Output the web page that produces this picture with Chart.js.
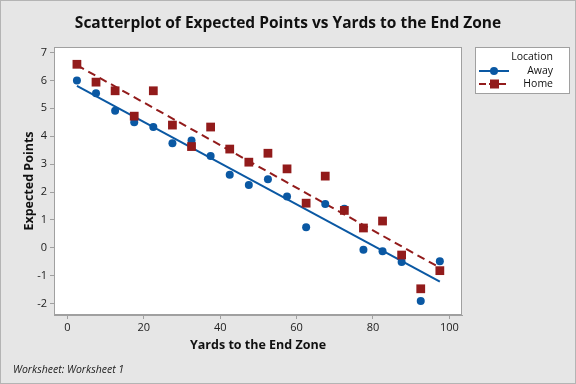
<!DOCTYPE html>
<html><head><meta charset="utf-8">
<script src="https://cdn.jsdelivr.net/npm/chart.js@4"></script>
<style>html,body{margin:0;padding:0;background:#e6e6e6}canvas{display:block}</style>
</head><body>
<canvas id="c" width="576" height="384"></canvas>
<script>
const yards = [2.5,7.5,12.5,17.5,22.5,27.5,32.5,37.5,42.5,47.5,52.5,57.5,62.5,67.5,72.5,77.5,82.5,87.5,92.5,97.5];
const awayPoints = [6.0,5.54,4.91,4.5,4.33,3.75,3.85,3.29,2.62,2.25,2.46,1.84,0.74,1.57,1.40,-0.07,-0.12,-0.51,-1.91,-0.48];
const homePoints = [6.58,5.94,5.63,4.72,5.63,4.40,3.63,4.33,3.54,3.07,3.39,2.83,1.60,2.57,1.34,0.71,0.96,-0.26,-1.47,-0.82];
const xTicks = [0,20,40,60,80,100];
const yTicks = [-2,-1,0,1,2,3,4,5,6,7];
const seriesNames = ['Away','Home'];
const legendTitle = 'Location';
const chartTitle = 'Scatterplot of Expected Points vs Yards to the End Zone';
const xTitle = 'Yards to the End Zone';
const yTitle = 'Expected Points';
const footer = 'Worksheet: Worksheet 1';

const BLUE = '#0a58a3', RED = '#921b1b';
const FONT = '"Open Sans", "Noto Sans", sans-serif';

function fit(xs, ys) {
  const n = xs.length;
  const mx = xs.reduce((a,b)=>a+b,0)/n, my = ys.reduce((a,b)=>a+b,0)/n;
  let sxy=0, sxx=0;
  for (let i=0;i<n;i++){ sxy+=(xs[i]-mx)*(ys[i]-my); sxx+=(xs[i]-mx)**2; }
  const b = sxy/sxx, a = my-b*mx;
  const x0 = Math.min(...xs), x1 = Math.max(...xs);
  return [{x:x0,y:a+b*x0},{x:x1,y:a+b*x1}];
}
const pts = (xs, ys) => xs.map((x,i)=>({x, y:ys[i]}));

const decor = {
  id:'decor',
  beforeDraw(chart){
    const {ctx, chartArea:ca} = chart;
    ctx.save();
    ctx.fillStyle='#e6e6e6'; ctx.fillRect(0,0,576,384);
    ctx.strokeStyle='#b4b4b4'; ctx.lineWidth=1; ctx.strokeRect(0.5,0.5,575,383);
    ctx.fillStyle='#ffffff'; ctx.fillRect(ca.left, ca.top, ca.right-ca.left, ca.bottom-ca.top);
    // title
    ctx.fillStyle='#111'; ctx.font='bold 15.5px '+FONT; ctx.textAlign='center'; ctx.textBaseline='middle';
    ctx.fillText(chartTitle, 288, 24);
    // footer
    ctx.font='italic 10.5px '+FONT; ctx.textAlign='left';
    ctx.fillStyle='#222';
    ctx.fillText(footer, 13, 370);
    ctx.restore();
  },
  afterDatasetsDraw(chart){
    const {ctx, chartArea:ca} = chart;
    ctx.save();
    ctx.strokeStyle='#a0a0a0'; ctx.lineWidth=1;
    ctx.strokeRect(Math.round(ca.left)+0.5, Math.round(ca.top)+0.5, Math.round(ca.right-ca.left)-1, Math.round(ca.bottom-ca.top)-1);
    // legend
    const lx=475, ly=47, lw=95, lh=47;
    ctx.fillStyle='#fff'; ctx.fillRect(lx,ly,lw,lh);
    ctx.strokeStyle='#a0a0a0'; ctx.strokeRect(lx+0.5,ly+0.5,lw-1,lh-1);
    ctx.fillStyle='#111'; ctx.font='10.5px '+FONT; ctx.textAlign='right'; ctx.textBaseline='middle';
    ctx.fillText(legendTitle, 553, 57);
    const rows = [[seriesNames[0], BLUE, 'circle', 71],[seriesNames[1], RED, 'rect', 84]];
    rows.forEach(([name,col,shape,y])=>{
      ctx.fillStyle='#111'; ctx.fillText(name, 553, y);
      ctx.strokeStyle=col; ctx.lineWidth=2;
      ctx.setLineDash(shape==='rect'?[7,3]:[]);
      ctx.beginPath(); ctx.moveTo(479,y); ctx.lineTo(509,y); ctx.stroke();
      ctx.setLineDash([]);
      ctx.fillStyle=col;
      if (shape==='circle'){ ctx.beginPath(); ctx.arc(494,y,4,0,Math.PI*2); ctx.fill(); }
      else ctx.fillRect(490,y-4.5,9,9);
    });
    ctx.restore();
  }
};

new Chart(document.getElementById('c'), {
  type:'scatter',
  data:{datasets:[
    {label:seriesNames[1], data:pts(yards,homePoints), backgroundColor:RED, borderColor:RED, pointStyle:'rect', pointRadius:6.2, pointHoverRadius:6.2, borderWidth:0},
    {label:seriesNames[0], data:pts(yards,awayPoints), backgroundColor:BLUE, borderColor:BLUE, pointStyle:'circle', pointRadius:4, pointHoverRadius:4, borderWidth:0},
    {label:'Home fit', type:'line', data:fit(yards,homePoints), borderColor:RED, borderWidth:2, borderDash:[8,5], pointRadius:0, fill:false},
    {label:'Away fit', type:'line', data:fit(yards,awayPoints), borderColor:BLUE, borderWidth:2, pointRadius:0, fill:false}
  ]},
  options:{
    responsive:false, animation:false, devicePixelRatio:1,
    layout:{padding:{top:47,right:114,bottom:0,left:0}},
    plugins:{legend:{display:false}, title:{display:false}, tooltip:{enabled:false}},
    scales:{
      x:{type:'linear', min:-3.5, max:103.3,
        afterBuildTicks:s=>{s.ticks=xTicks.map(v=>({value:v}));},
        afterFit:s=>{s.height=69;},
        grid:{drawOnChartArea:false, tickLength:4, color:'#a0a0a0'},
        border:{color:'#a0a0a0'},
        ticks:{font:{family:FONT,size:11}, color:'#222', padding:2},
        title:{display:true, text:xTitle, font:{family:FONT,size:12.5,weight:'bold'}, color:'#111', padding:{top:0,bottom:31}}
      },
      y:{type:'linear', min:-2.41, max:7.2,
        afterBuildTicks:s=>{s.ticks=yTicks.map(v=>({value:v}));},
        afterFit:s=>{s.width=54;},
        grid:{drawOnChartArea:false, tickLength:4, color:'#a0a0a0'},
        border:{color:'#a0a0a0'},
        ticks:{font:{family:FONT,size:11}, color:'#222', padding:3},
        title:{display:true, text:yTitle, font:{family:FONT,size:12.5,weight:'bold'}, color:'#111', padding:{top:22,bottom:0}}
      }
    }
  },
  plugins:[decor]
});
</script>
</body></html>
